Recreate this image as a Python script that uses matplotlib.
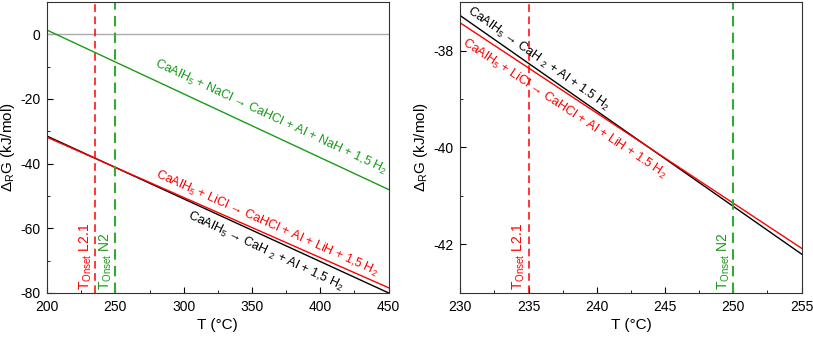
import numpy as np
import matplotlib.pyplot as plt
from matplotlib.ticker import MultipleLocator

plt.rcParams['font.family'] = ['Liberation Sans', 'DejaVu Sans']
plt.rcParams['font.size'] = 9
plt.rcParams['axes.unicode_minus'] = False
plt.rcParams['mathtext.fontset'] = 'custom'
plt.rcParams['mathtext.rm'] = 'Liberation Sans'
plt.rcParams['mathtext.it'] = 'Liberation Sans:italic'
plt.rcParams['mathtext.default'] = 'regular'

# end points (T in degC, dG in kJ/mol)
T_left = [200, 450]
dG_nacl_left = [1.3, -48.0]
dG_licl_left = [-31.85, -78.4]
dG_ca_left = [-31.5, -80.0]

T_right = [230, 255]
dG_licl_right = [-37.43, -42.08]
dG_ca_right = [-37.28, -42.2]

T_onset_L21 = 235
T_onset_N2 = 250

fig, (ax1, ax2) = plt.subplots(1, 2, figsize=(8.13, 3.39), dpi=100)
fig.subplots_adjust(left=0.058, right=0.986, bottom=0.136, top=0.994, wspace=0.21)

green = '#1a9a1a'
red = '#ff0000'

# left panel
ax1.axhline(0, color='#aaaaaa', lw=1)
ax1.plot(T_left, dG_nacl_left, color=green, lw=1)
ax1.plot(T_left, dG_ca_left, color='black', lw=1)
ax1.plot(T_left, dG_licl_left, color=red, lw=1)
ax1.axvline(T_onset_L21, color=red, ls=(0, (5, 3)), lw=1.1)
ax1.axvline(T_onset_N2, color='#33aa33', ls=(0, (5, 3)), lw=1.5)
ax1.set_xlim(200, 450)
ax1.set_ylim(-80, 10)
ax1.xaxis.set_major_locator(MultipleLocator(50))
ax1.xaxis.set_minor_locator(MultipleLocator(25))
ax1.yaxis.set_major_locator(MultipleLocator(20))
ax1.yaxis.set_minor_locator(MultipleLocator(10))

ax1.text(364, -25.6, r'CaAlH$_5$ + NaCl → CaHCl + Al + NaH + 1,5 H$_2$',
         color=green, rotation=-25, ha='center', va='center')
ax1.text(361, -58.6, r'CaAlH$_5$ + LiCl → CaHCl + Al + LiH + 1,5 H$_2$',
         color=red, rotation=-24, ha='center', va='center')
ax1.text(360, -67.0, r'CaAlH$_5$ → CaH $_2$ + Al + 1,5 H$_2$',
         color='black', rotation=-25, ha='center', va='center')
ax1.text(T_onset_L21 - 0.8, -79, r'T$_{Onset}$ L2.1', color=red, rotation=90,
         ha='right', va='bottom', fontsize=10)
ax1.text(T_onset_N2 - 0.8, -79, r'T$_{Onset}$ N2', color=green, rotation=90,
         ha='right', va='bottom', fontsize=10)

# right panel
ax2.plot(T_right, dG_ca_right, color='black', lw=1)
ax2.plot(T_right, dG_licl_right, color=red, lw=1)
ax2.axvline(T_onset_L21, color=red, ls=(0, (5, 3)), lw=1.1)
ax2.axvline(T_onset_N2, color='#33aa33', ls=(0, (5, 3)), lw=1.5)
ax2.set_xlim(230, 255)
ax2.set_ylim(-43, -37)
ax2.xaxis.set_major_locator(MultipleLocator(5))
ax2.xaxis.set_minor_locator(MultipleLocator(2.5))
ax2.yaxis.set_major_locator(MultipleLocator(2))
ax2.yaxis.set_minor_locator(MultipleLocator(1))

ax2.text(235.75, -38.18, r'CaAlH$_5$ → CaH $_2$ + Al + 1.5 H$_2$',
         color='black', rotation=-35, ha='center', va='center')
ax2.text(237.65, -39.2, r'CaAlH$_5$ + LiCl → CaHCl + Al + LiH + 1.5 H$_2$',
         color=red, rotation=-33.5, ha='center', va='center')
ax2.text(T_onset_L21 - 0.08, -42.95, r'T$_{Onset}$ L2.1', color=red, rotation=90,
         ha='right', va='bottom', fontsize=10)
ax2.text(T_onset_N2 - 0.08, -42.95, r'T$_{Onset}$ N2', color=green, rotation=90,
         ha='right', va='bottom', fontsize=10)

for ax in (ax1, ax2):
    ax.set_xlabel('T (°C)', fontsize=11, labelpad=3)
    ax.set_ylabel(r'$\Delta_R$G (kJ/mol)', fontsize=11, labelpad=2)
    ax.tick_params(which='both', direction='in', top=False, right=False,
                   labelsize=10)
    ax.tick_params(which='major', length=4, pad=5)
    ax.tick_params(which='minor', length=2.5)
    for s in ax.spines.values():
        s.set_color('#333333')

plt.savefig('out.png', dpi=100)
